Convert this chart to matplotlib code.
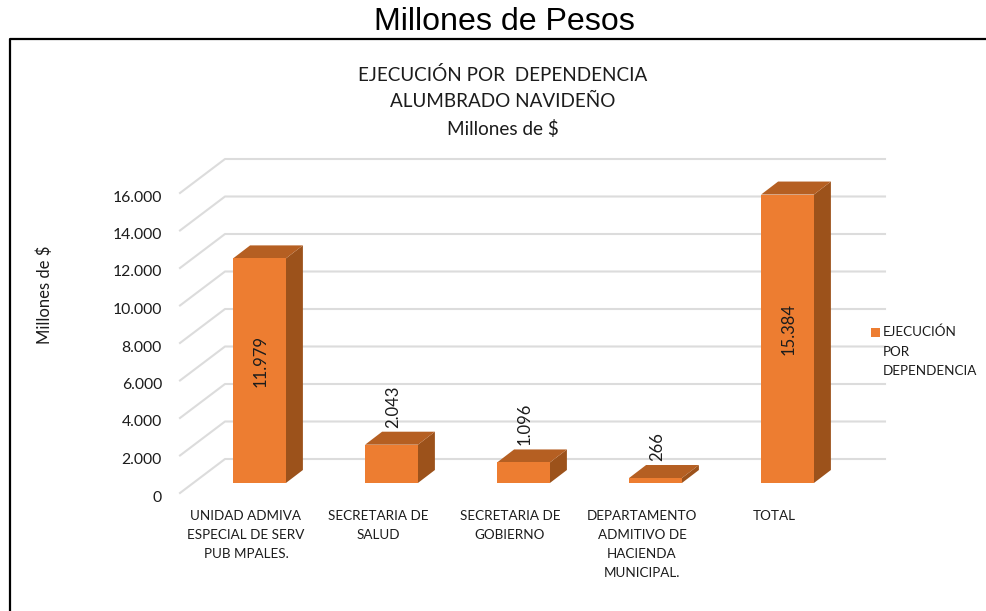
import matplotlib
matplotlib.use('Agg')
import matplotlib.pyplot as plt
from matplotlib.lines import Line2D
from matplotlib.patches import Polygon, Rectangle
from matplotlib.transforms import Affine2D, IdentityTransform

categories = ['UNIDAD ADMIVA\nESPECIAL DE SERV\nPUB MPALES.', 'SECRETARIA DE\nSALUD',
              'SECRETARIA DE\nGOBIERNO', 'DEPARTAMENTO\nADMITIVO DE\nHACIENDA\nMUNICIPAL.', 'TOTAL']
values = [11979, 2043, 1096, 266, 15384]
value_labels = ['11.979', '2.043', '1.096', '266', '15.384']
y_ticks = [0, 2000, 4000, 6000, 8000, 10000, 12000, 14000, 16000]
y_tick_labels = ['0', '2.000', '4.000', '6.000', '8.000', '10.000', '12.000', '14.000', '16.000']

W, H = 986, 611
FRONT = '#ED7D31'
SIDE = '#9C521B'
TOP = '#B55F22'
GRID = '#DCDCDC'
TEXT = '#1c1c1c'

plt.rcParams['font.family'] = ['Lato', 'DejaVu Sans']


def fx(x):
    return x / W


def fy(y):
    return 1 - y / H


fig = plt.figure(figsize=(W / 100, H / 100), dpi=100)
ax = fig.add_axes([fx(180), fy(493), 660 / W, 300 / H])
ax.set_xlim(-0.5, 4.5)
ax.set_ylim(0, 16000)
ax.set_autoscale_on(False)
for s in ax.spines.values():
    s.set_visible(False)
ax.patch.set_visible(False)

ax.set_yticks(y_ticks)
ax.set_yticklabels(y_tick_labels, fontsize=11.3, color=TEXT)
ax.set_xticks(range(len(categories)))
ax.set_xticklabels(categories, fontsize=9.7, color=TEXT, linespacing=1.7)
ax.tick_params(axis='y', length=0, pad=13)
ax.tick_params(axis='x', length=0, pad=12)
for lab in ax.get_yticklabels():
    lab.set_transform(lab.get_transform() + Affine2D().translate(0, -3))

# wall and floor grid lines, offset in pixels for the fake depth
depth = (45, 34)
for t in y_ticks:
    x0, y0 = ax.transData.transform((-0.5, t))
    x1, _ = ax.transData.transform((4.5, t))
    ax.add_line(Line2D([x0, x0 + depth[0], x1 + depth[0]], [y0, y0 + depth[1], y0 + depth[1]],
                       color=GRID, lw=1.5, transform=IdentityTransform(), clip_on=False, zorder=1))

# bars sit a bit behind the front plane
bar_w = 0.4
shift = (13.5, 10)
bar_depth = (17, 13)
ax.bar(range(len(values)), values, width=bar_w, color=FRONT, zorder=4,
       transform=ax.transData + Affine2D().translate(*shift))

for i, v in enumerate(values):
    xl, yb = ax.transData.transform((i - bar_w / 2, 0))
    xr, yt = ax.transData.transform((i + bar_w / 2, v))
    xl, xr = xl + shift[0], xr + shift[0]
    yb, yt = yb + shift[1], yt + shift[1]
    dx, dy = bar_depth
    ax.add_patch(Polygon([(xr, yb), (xr + dx, yb + dy), (xr + dx, yt + dy), (xr, yt)], closed=True,
                         facecolor=SIDE, edgecolor='none', transform=IdentityTransform(),
                         clip_on=False, zorder=3))
    ax.add_patch(Polygon([(xl, yt), (xl + dx, yt + dy), (xr + dx, yt + dy), (xr, yt)], closed=True,
                         facecolor=TOP, edgecolor='none', transform=IdentityTransform(),
                         clip_on=False, zorder=3))
    # big bars have the label inside, short ones above the top face
    if v > 5000:
        ax.annotate(value_labels[i], (i, v / 2), xycoords='data', xytext=((shift[0] + 1) * 0.72, (shift[1] + 10) * 0.72),
                    textcoords='offset points', rotation=90, ha='center', va='center',
                    fontsize=12, color=TEXT, zorder=6)
    else:
        ax.annotate(value_labels[i], (i, v), xycoords='data', xytext=((shift[0] + 1.5) * 0.72, (shift[1] + dy + 4) * 0.72),
                    textcoords='offset points', rotation=90, ha='center', va='bottom',
                    fontsize=12, color=TEXT, zorder=6)

# frame around the chart
fig.add_artist(Line2D([fx(10), fx(10), 1], [0, fy(39), fy(39)], color='black', lw=1.6))

fig.text(fx(504), fy(22), 'Millones de Pesos', family='Liberation Sans', fontsize=23.1,
         ha='center', va='center', color='black')
fig.text(fx(503), fy(75), 'EJECUCIÓN POR  DEPENDENCIA', fontsize=13.6, ha='center', va='center', color=TEXT)
fig.text(fx(503), fy(101), 'ALUMBRADO NAVIDEÑO', fontsize=13.6, ha='center', va='center', color=TEXT)
fig.text(fx(503), fy(129), 'Millones de $', fontsize=13.6, ha='center', va='center', color=TEXT)
fig.text(fx(45), fy(295), 'Millones de $', fontsize=12, rotation=90, ha='center', va='center', color=TEXT)

# legend
fig.add_artist(Rectangle((fx(871), fy(336.5)), 9 / W, 9 / H, facecolor=FRONT, edgecolor='none',
                         transform=fig.transFigure))
fig.text(fx(883), fy(332), 'EJECUCIÓN', fontsize=9.7, ha='left', va='center', color=TEXT)
fig.text(fx(883), fy(351.5), 'POR', fontsize=9.7, ha='left', va='center', color=TEXT)
fig.text(fx(883), fy(371), 'DEPENDENCIA', fontsize=9.7, ha='left', va='center', color=TEXT)

fig.savefig('out.png', dpi=100)
